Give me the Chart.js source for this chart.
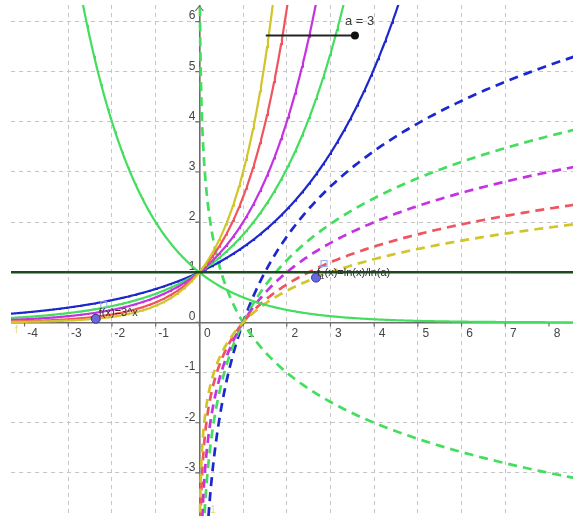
<!DOCTYPE html>
<html>
<head>
<meta charset="utf-8">
<script src="https://cdn.jsdelivr.net/npm/chart.js@4.4.1/dist/chart.umd.min.js"></script>
<style>
  html, body { margin: 0; padding: 0; background: #fff; }
  #wrap { width: 573px; height: 516px; }
</style>
</head>
<body>
<div id="wrap"><canvas id="graph" width="573" height="516"></canvas></div>
<script>
// visible window of the graphics view (graph units)
const xRange = [-4.31, 8.55];
const yRange = [-3.86, 6.33];

// bases for f(x) = a^x and f1(x) = ln(x)/ln(a)
const bases = [3, 2.5, 2, 1.75, 1.5];
const baseColors = ['rgb(210,197,42)', 'rgb(240,84,94)', 'rgb(196,50,226)', 'rgb(68,222,94)', 'rgb(28,40,206)'];
// the reciprocal base, drawn in green as well
const halfBase = 0.5;
const halfColor = 'rgb(68,222,94)';

// slider for a
const sliderValue = 3;
const sliderSpan = [1.52, 3.56];
const sliderY = 5.72;

// free points on f and f1
const pointOnExp = -2.37;
const pointOnLog = 2.67;

const xTicks = [-4, -3, -2, -1, 0, 1, 2, 3, 4, 5, 6, 7, 8];
const yTicks = [-3, -2, -1, 0, 1, 2, 3, 4, 5, 6];

function expCurve(b) {
  const pts = [];
  for (let x = xRange[0]; x <= xRange[1] + 0.02; x += 0.02) {
    const y = Math.pow(b, x);
    pts.push({ x: x, y: y });
    if (b > 1 && y > yRange[1] + 1) break;
  }
  return pts;
}

function logCurve(b) {
  const pts = [];
  for (let x = 0.003; x < xRange[1] + 0.1; x *= 1.01) {
    pts.push({ x: x, y: Math.log(x) / Math.log(b) });
  }
  return pts;
}

const datasets = [];

// marked points first so they end up on top
datasets.push({
  data: [
    { x: pointOnExp, y: Math.pow(sliderValue, pointOnExp) },
    { x: pointOnLog, y: Math.log(pointOnLog) / Math.log(sliderValue) }
  ],
  showLine: false,
  pointRadius: 4.5,
  pointBackgroundColor: 'rgb(104,104,228)',
  pointBorderColor: 'rgb(50,50,130)',
  pointBorderWidth: 1
});

// slider bar
datasets.push({
  data: [{ x: sliderSpan[0], y: sliderY }, { x: sliderSpan[1], y: sliderY }],
  borderColor: '#222',
  borderWidth: 2,
  pointRadius: [0, 4],
  pointBackgroundColor: '#111',
  pointBorderWidth: 0
});

// y = 1
datasets.push({
  data: [{ x: xRange[0], y: 1 }, { x: xRange[1], y: 1 }],
  borderColor: 'rgb(26,74,30)',
  borderWidth: 2.6,
  pointRadius: 0
});

bases.forEach((b, i) => {
  datasets.push({
    data: expCurve(b),
    borderColor: baseColors[i],
    borderWidth: 2.2,
    pointRadius: 0
  });
});
datasets.push({ data: expCurve(halfBase), borderColor: halfColor, borderWidth: 2.2, pointRadius: 0 });

bases.forEach((b, i) => {
  datasets.push({
    data: logCurve(b),
    borderColor: baseColors[i],
    borderWidth: 2.7,
    borderDash: [9, 6],
    pointRadius: 0
  });
});
datasets.push({ data: logCurve(halfBase), borderColor: halfColor, borderWidth: 2.7, borderDash: [9, 6], pointRadius: 0 });

// dashed grid, solid axis at 0; the scale itself takes no room
function gridScale(range, horizontal) {
  return {
    type: 'linear',
    min: range[0],
    max: range[1],
    ticks: { stepSize: 1, display: false },
    grid: {
      drawTicks: false,
      color: c => !Number.isInteger(c.tick.value) ? 'rgba(0,0,0,0)' : (c.tick.value === 0 ? '#6c6c6c' : '#c6c6c6'),
      lineWidth: c => c.tick && c.tick.value === 0 ? 1.6 : 1
    },
    border: { display: false, dash: c => (c.tick && c.tick.value === 0) ? [] : [4, 4] },
    afterFit: s => { if (horizontal) s.height = 0; else s.width = 0; }
  };
}

// tick labels, tick marks and the arrow on the y axis
const axisLabels = {
  id: 'axisLabels',
  beforeDatasetsDraw(chart) {
    const { ctx, scales: { x, y }, chartArea } = chart;
    const x0 = x.getPixelForValue(0);
    const y0 = y.getPixelForValue(0);
    ctx.save();
    ctx.strokeStyle = '#6c6c6c';
    ctx.lineWidth = 1.2;
    ctx.beginPath();
    xTicks.forEach(v => { const p = x.getPixelForValue(v); ctx.moveTo(p, y0); ctx.lineTo(p, y0 + 4); });
    yTicks.forEach(v => { const p = y.getPixelForValue(v); ctx.moveTo(x0 - 4, p); ctx.lineTo(x0, p); });
    ctx.moveTo(x0 - 4, chartArea.top + 6);
    ctx.lineTo(x0, chartArea.top + 1);
    ctx.lineTo(x0 + 4, chartArea.top + 6);
    ctx.stroke();

    ctx.fillStyle = '#444';
    ctx.font = '12px "Liberation Sans", Arial, sans-serif';
    ctx.textBaseline = 'middle';
    ctx.textAlign = 'center';
    xTicks.forEach(v => ctx.fillText(String(v), x.getPixelForValue(v) + 8, y0 + 11));
    ctx.textAlign = 'right';
    yTicks.forEach(v => ctx.fillText(String(v), x0 - 4, y.getPixelForValue(v) - 5.5));

    // stray labels of the other curves
    ctx.fillStyle = 'rgb(225,220,120)';
    ctx.font = '10px "Liberation Sans", Arial, sans-serif';
    ctx.textAlign = 'left';
    ctx.fillText('f', chartArea.left + 4, y0 + 8);
    ctx.fillText('1', x0 + 11, chartArea.bottom - 6);
    ctx.restore();
  },
  afterDatasetsDraw(chart) {
    const { ctx, scales: { x, y } } = chart;
    ctx.save();
    ctx.fillStyle = '#333';
    ctx.textBaseline = 'middle';
    ctx.textAlign = 'left';

    const ex = x.getPixelForValue(pointOnExp);
    const ey = y.getPixelForValue(Math.pow(sliderValue, pointOnExp));
    const lx = x.getPixelForValue(pointOnLog);
    const ly = y.getPixelForValue(Math.log(pointOnLog) / Math.log(sliderValue));

    ctx.strokeStyle = 'rgb(150,168,240)';
    ctx.lineWidth = 1;
    ctx.strokeRect(ex + 5, ey - 17, 6, 6);
    ctx.strokeRect(lx + 5, ly - 17, 6, 6);

    ctx.font = '11px "Liberation Sans", Arial, sans-serif';
    ctx.fillText('f(x)=' + sliderValue + '^x', ex + 3, ey - 6);

    ctx.fillText('f', lx + 1, ly - 5);
    let cx = lx + 1 + ctx.measureText('f').width;
    ctx.font = '8px "Liberation Sans", Arial, sans-serif';
    ctx.fillText('1', cx, ly - 1);
    cx += ctx.measureText('1').width;
    ctx.font = '11px "Liberation Sans", Arial, sans-serif';
    ctx.fillText('(x)=ln(x)/ln(a)', cx, ly - 5);

    // slider caption
    ctx.fillStyle = '#3a3a3a';
    ctx.font = '13px "Liberation Sans", Arial, sans-serif';
    ctx.fillText('a = ' + sliderValue, x.getPixelForValue(sliderSpan[1]) - 10, y.getPixelForValue(sliderY) - 14);
    ctx.restore();
  }
};

new Chart(document.getElementById('graph'), {
  type: 'line',
  data: { datasets: datasets },
  options: {
    responsive: false,
    animation: false,
    events: [],
    layout: { autoPadding: false, padding: { left: 11, top: 5, right: 0, bottom: 0 } },
    elements: { line: { tension: 0, fill: false } },
    plugins: { legend: { display: false }, tooltip: { enabled: false } },
    scales: { x: gridScale(xRange, true), y: gridScale(yRange, false) }
  },
  plugins: [axisLabels]
});
</script>
</body>
</html>
